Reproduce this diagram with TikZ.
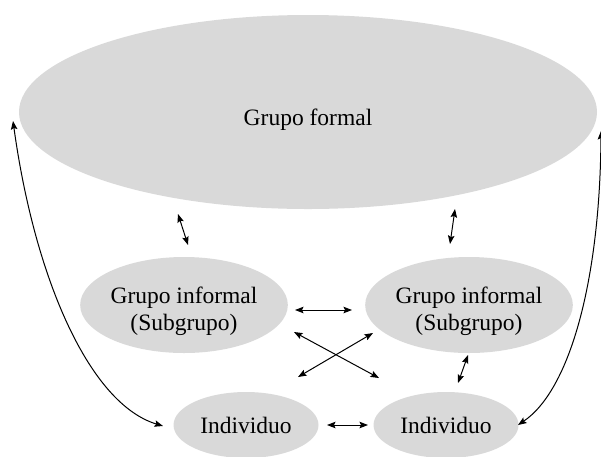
\documentclass[tikz,border=0pt]{standalone}
\usepackage{fontspec}
\setmainfont{Liberation Serif}
\usetikzlibrary{shapes.geometric,arrows.meta}
\definecolor{groupfill}{HTML}{D9D9D9}
% lowers the label inside its ellipse while keeping the box size
\newcommand{\grplines}[2]{\raisebox{#1}[\height][\depth]{\begin{tabular}{@{}c@{}}#2\end{tabular}}}
\tikzset{
  grp/.style={ellipse, fill=groupfill, inner sep=0pt, align=center,
    font=\fontsize{23.5}{27}\selectfont},
  link/.style={line width=1pt, {Stealth[length=8.5pt,width=6.5pt,inset=1.5pt]}-{Stealth[length=8.5pt,width=6.5pt,inset=1.5pt]}}
}
\begin{document}
\begin{tikzpicture}[x=1pt,y=-1pt]
\useasboundingbox (0,0) rectangle (601,456);

% groups
\node[grp, minimum width=578pt, minimum height=194pt] (formal) at (308,112) {\grplines{-8pt}{Grupo formal}};
\node[grp, minimum width=202pt, minimum height=96pt] (inf1) at (184,305) {\grplines{-7pt}{Grupo informal\\(Subgrupo)}};
\node[grp, minimum width=202pt, minimum height=96pt] (inf2) at (469,305) {\grplines{-7pt}{Grupo informal\\(Subgrupo)}};
\node[grp, minimum width=145pt, minimum height=66pt] (ind1) at (246,425) {Individuo};
\node[grp, minimum width=145pt, minimum height=66pt] (ind2) at (446,425) {Individuo};

% free ends of the short links
\coordinate (fl1) at (178,214); \coordinate (fl2) at (188,245);
\coordinate (fr1) at (455,209); \coordinate (fr2) at (450,244);
\coordinate (h1) at (295,310);  \coordinate (h2) at (352,310);
\coordinate (xa1) at (294,332); \coordinate (xa2) at (379,378);
\coordinate (xb1) at (298,377); \coordinate (xb2) at (373,333);
\coordinate (b1) at (327,425);  \coordinate (b2) at (368,425);
\coordinate (r1) at (468,355);  \coordinate (r2) at (458,383);
\coordinate (lt) at (13,121);   \coordinate (lb) at (163,426);
\coordinate (rt) at (601,131);  \coordinate (rb) at (518,425);

\draw[link] (fl1) -- (fl2);
\draw[link] (fr1) -- (fr2);
\draw[link] (h1) -- (h2);
\draw[link] (xa1) -- (xa2);
\draw[link] (xb1) -- (xb2);
\draw[link] (b1) -- (b2);
\draw[link] (r1) -- (r2);

% long links from the formal group down to the individuals
\draw[link] (lt) .. controls (35,280) and (90,404) .. (lb);
\draw[link] (rt) .. controls (600,280) and (570,390) .. (rb);
\end{tikzpicture}
\end{document}
